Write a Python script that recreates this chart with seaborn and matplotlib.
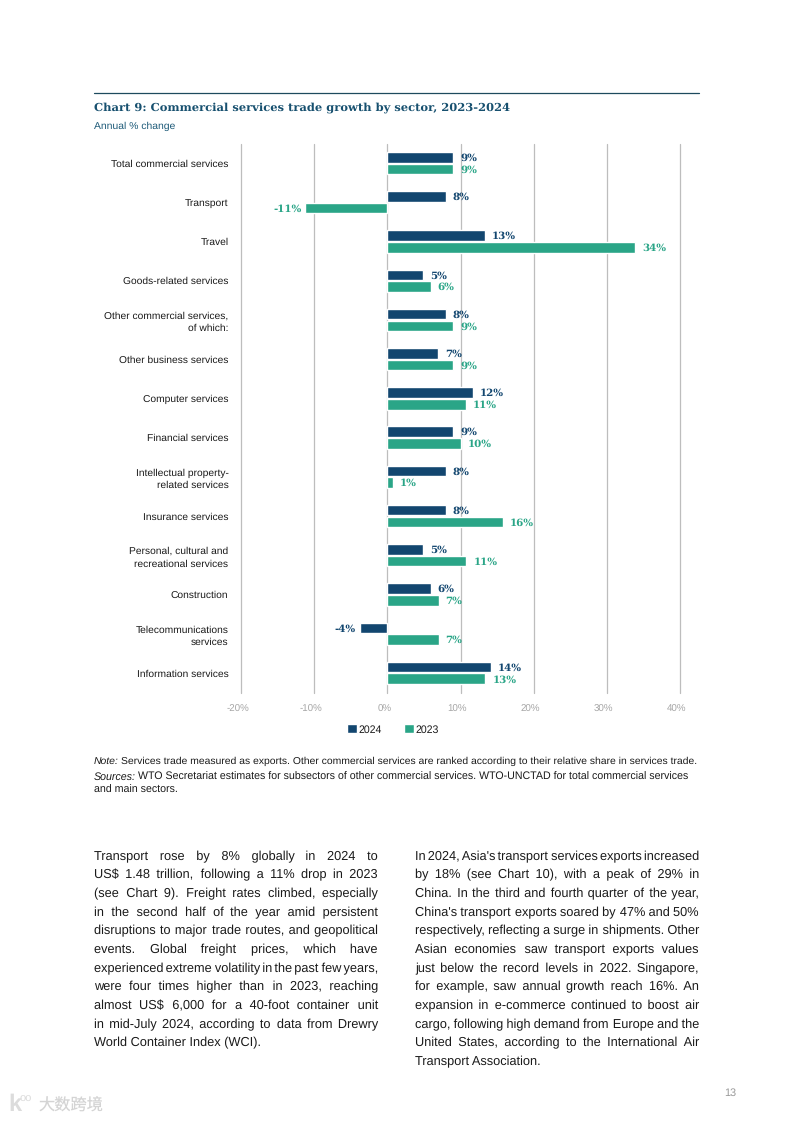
import pandas as pd
import seaborn as sns
import matplotlib.pyplot as plt
from matplotlib.transforms import ScaledTranslation

sectors = ['Total commercial services', 'Transport', 'Travel', 'Goods-related services',
           'Other commercial services,\nof which:', 'Other business services', 'Computer services',
           'Financial services', 'Intellectual property-\nrelated services', 'Insurance services',
           'Personal, cultural and\nrecreational services', 'Construction',
           'Telecommunications\nservices', 'Information services']
vals_2024 = [9.0, 8.0, 13.3, 4.9, 8.0, 6.9, 11.7, 9.0, 8.0, 8.0, 4.9, 5.9, -3.8, 14.2]
vals_2023 = [9.0, -11.2, 33.9, 5.9, 9.0, 9.0, 10.7, 10.0, 0.8, 15.8, 10.8, 7.0, 7.0, 13.4]
labels_2024 = ['9%', '8%', '13%', '5%', '8%', '7%', '12%', '9%', '8%', '8%', '5%', '6%', '-4%', '14%']
labels_2023 = ['9%', '-11%', '34%', '6%', '9%', '9%', '11%', '10%', '1%', '16%', '11%', '7%', '7%', '13%']
xticks = [-20, -10, 0, 10, 20, 30, 40]

left_col = ['Transport rose by 8% globally in 2024 to',
            'US$ 1.48 trillion, following a 11% drop in 2023',
            '(see Chart 9). Freight rates climbed, especially',
            'in the second half of the year amid persistent',
            'disruptions to major trade routes, and geopolitical',
            'events. Global freight prices, which have',
            'experienced extreme volatility in the past few years,',
            'were four times higher than in 2023, reaching',
            'almost US$ 6,000 for a 40-foot container unit',
            'in mid-July 2024, according to data from Drewry',
            'World Container Index (WCI).']
right_col = ["In 2024, Asia's transport services exports increased",
             'by 18% (see Chart 10), with a peak of 29% in',
             'China. In the third and fourth quarter of the year,',
             "China's transport exports soared by 47% and 50%",
             'respectively, reflecting a surge in shipments. Other',
             'Asian economies saw transport exports values',
             'just below the record levels in 2022. Singapore,',
             'for example, saw annual growth reach 16%. An',
             'expansion in e-commerce continued to boost air',
             'cargo, following high demand from Europe and the',
             'United States, according to the International Air',
             'Transport Association.']

NAVY = '#12466f'
GREEN = '#2aa587'
W, H = 793, 1121
HAIR = '\u200a'

sns.set_theme(style='whitegrid')
plt.rcParams['font.family'] = ['Liberation Sans', 'DejaVu Sans']
plt.rcParams['text.hinting'] = 'no_hinting'

df = pd.DataFrame({'sector': sectors * 2,
                   'change': vals_2024 + vals_2023,
                   'year': ['2024'] * len(sectors) + ['2023'] * len(sectors)})

fig = plt.figure(figsize=(W / 100, H / 100), dpi=100, facecolor='white')
ax = fig.add_axes([241 / W, 1 - 692.5 / H, 439 / W, 549 / H])

sns.barplot(data=df, y='sector', x='change', hue='year', hue_order=['2024', '2023'],
            palette=[NAVY, GREEN], saturation=1, width=0.6, gap=0.1, dodge=True, ax=ax)

ax.set_xlim(-20, 40)
ax.set_ylim(len(sectors) - 0.5, -0.5)
ax.set_xticks(xticks)
ax.set_xticklabels([f'{t}%' for t in xticks], fontsize=7, color='#a6a6a6')
ax.tick_params(axis='x', length=0, pad=9)
ax.tick_params(axis='y', length=0, pad=9, labelsize=7.35, labelcolor='#1a1a1a')
# tick_params resets the label transforms, so the small shift has to come after it
shift = ScaledTranslation(-3 / 100, 0, fig.dpi_scale_trans)
for t in ax.get_xticklabels():
    t.set_transform(t.get_transform() + shift)
ax.set_xlabel('')
ax.set_ylabel('')
ax.grid(axis='y', visible=False)
ax.grid(axis='x', color='#bdbdbd', linewidth=0.9, clip_on=False)
ax.set_axisbelow(True)
for s in ax.spines.values():
    s.set_visible(False)
for lab in ax.get_yticklabels():
    lab.set_linespacing(1.4)

for cont, labs, col in zip(ax.containers, [labels_2024, labels_2023], [NAVY, GREEN]):
    for lab in ax.bar_label(cont, labels=labs, padding=5, color=col, fontsize=7.4,
                            fontweight='bold', family='DejaVu Serif'):
        dx = 2.2 if lab.get_text().startswith('-') else 0
        lab.xyann = (lab.xyann[0] + dx, lab.xyann[1] - 0.6)

handles, names = ax.get_legend_handles_labels()
ax.legend(handles, names, loc='center', ncol=2, frameon=False, fontsize=7.6,
          bbox_to_anchor=((393 - 241) / 439, (692.5 - 729.5) / 549),
          handlelength=0.95, handleheight=0.95, handletextpad=0.15, columnspacing=2.1,
          labelcolor='#1a1a1a')


def px_text(x, y, s, **kw):
    kw.setdefault('va', 'center')
    kw.setdefault('ha', 'left')
    return fig.text(x / W, 1 - y / H, s, **kw)


fig.add_artist(plt.Line2D([94 / W, 698.5 / W], [1 - 93 / H] * 2, color='#1d4a5e', linewidth=0.9))
px_text(94, 107.5, 'Chart 9: Commercial services trade growth by sector, 2023-2024',
        fontsize=8.25, fontweight='bold', family='DejaVu Serif', color='#17506f')
px_text(94, 126.5, 'Annual % change', fontsize=7.5, color='#1d5a78')

renderer = fig.canvas.get_renderer()


def measure(s, size, **kw):
    t = px_text(0, 0, s, fontsize=size, **kw)
    wd = t.get_window_extent(renderer).width
    t.remove()
    return wd


def lead_in(x, y, lead, rest, size):
    px_text(x, y, lead, fontsize=size, style='italic', color='#1a1a1a', va='baseline')
    px_text(x + measure(lead, size, style='italic') + 2.5, y, rest, fontsize=size,
            color='#1a1a1a', va='baseline')


lead_in(94, 764, 'Note:', 'Services trade measured as exports. Other commercial services are '
        'ranked according to their relative share in services trade.', 7.45)
lead_in(94, 780, 'Sources:', 'WTO Secretariat estimates for subsectors of other commercial '
        'services. WTO-UNCTAD for total commercial services', 7.65)
px_text(94, 793, 'and main sectors.', fontsize=7.65, color='#1a1a1a', va='baseline')


def justified(lines, x0, x1, y0, step, size):
    # one text per line, word gaps filled with hair spaces so the baseline stays level
    hair = (measure('a' + HAIR * 40 + 'a', size) - measure('aa', size)) / 40
    for i, line in enumerate(lines):
        y = y0 + i * step
        if i == len(lines) - 1:
            px_text(x0, y, line, fontsize=size, color='#1a1a1a', va='baseline')
            continue
        words = line.split()
        gap = (x1 - x0 - sum(measure(w, size) for w in words)) / (len(words) - 1)
        out = words[0]
        used = 0
        for k, w in enumerate(words[1:], 1):
            n = round((gap * k - used) / hair)
            used += n * hair
            out += HAIR * n + w
        px_text(x0, y, out, fontsize=size, color='#1a1a1a', va='baseline')


justified(left_col, 94, 378, 860, 18.65, 9.15)
justified(right_col, 415, 699, 860, 18.65, 9.15)

px_text(730, 1093.5, '13', fontsize=7.8, color='#9a9a9a', ha='center')
px_text(39, 1105.5, '大数跨境', fontsize=11.7, family=['Noto Sans CJK SC', 'DejaVu Sans'], color='#d4d4d4')
px_text(8, 1105, 'k', fontsize=17, fontweight='bold', color='#dcdcdc')
px_text(20, 1099, 'oo', fontsize=8, color='#dcdcdc')

fig.savefig('out.png', dpi=100, facecolor='white')
